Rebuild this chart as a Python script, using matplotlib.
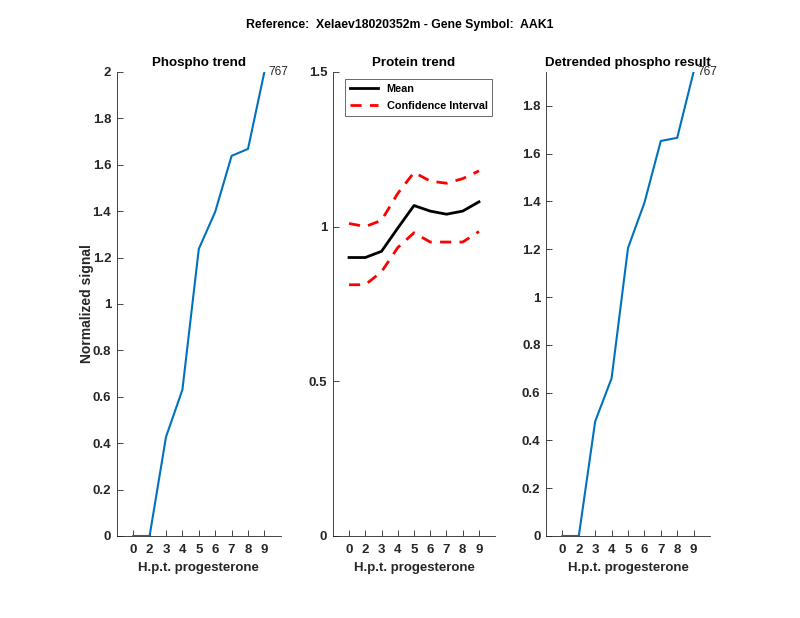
import matplotlib

matplotlib.use("Agg")

import matplotlib.pyplot as plt

TIME_LABELS = ["0", "2", "3", "4", "5", "6", "7", "8", "9"]
PHOSPHO = [0.0, 0.0, 0.427, 0.63, 1.237, 1.397, 1.638, 1.668, 2.0]
PROTEIN_MEAN = [0.90, 0.90, 0.92, 0.995, 1.068, 1.05, 1.04, 1.05, 1.08]
PROTEIN_UPPER = [1.01, 1.0, 1.02, 1.107, 1.175, 1.147, 1.14, 1.155, 1.18]
PROTEIN_LOWER = [0.812, 0.812, 0.854, 0.932, 0.98, 0.95, 0.95, 0.95, 0.984]
DETRENDED = [0.0, 0.0, 0.48, 0.66, 1.205, 1.394, 1.653, 1.666, 1.942]
PEPTIDE_ID = "767"

FONT = "Liberation Sans"
AXIS_COLOR = "#262626"
BLUE = "#0072BD"

plt.rcParams["font.family"] = [FONT, "DejaVu Sans"]


def style_axes(ax):
    for side in ["top", "right"]:
        ax.spines[side].set_visible(False)
    for side in ["left", "bottom"]:
        ax.spines[side].set_color(AXIS_COLOR)
        ax.spines[side].set_linewidth(0.6)
    positions = list(range(1, len(TIME_LABELS) + 1))
    ax.set_xlim(0, len(TIME_LABELS) + 1)
    ax.set_xticks(positions)
    ax.set_xticklabels(TIME_LABELS)
    ax.tick_params(direction="in", length=4, width=0.6, colors=AXIS_COLOR,
                   labelsize=9.5)
    ax.tick_params(axis="x", pad=6)
    ax.tick_params(axis="y", pad=4)
    for lbl in ax.get_xticklabels() + ax.get_yticklabels():
        lbl.set_fontweight("bold")
    ax.set_xlabel("H.p.t. progesterone", fontsize=9.5, fontweight="bold",
                  color=AXIS_COLOR)
    return positions


fig = plt.figure(figsize=(8, 6.18), dpi=100)
ax1 = fig.add_axes([0.146, 0.1327, 0.205, 0.751])
ax2 = fig.add_axes([0.416, 0.1327, 0.203, 0.751])
ax3 = fig.add_axes([0.6825, 0.1327, 0.205, 0.751])

# Phospho trend
x = list(range(1, len(TIME_LABELS) + 1))
ax1.plot(x, PHOSPHO, color=BLUE, lw=1.5)
ax1.set_ylim(0, max(PHOSPHO))
ax1.set_yticks([i * 0.2 for i in range(11)])
ax1.set_yticklabels(["0", "0.2", "0.4", "0.6", "0.8", "1", "1.2", "1.4", "1.6",
                     "1.8", "2"])
ax1.text(x[-1] + 0.25, PHOSPHO[-1], PEPTIDE_ID, fontsize=8.6, va="center",
         color=AXIS_COLOR, clip_on=False)
ax1.set_title("Phospho trend", fontsize=9.6, fontweight="bold", pad=4)
ax1.set_ylabel("Normalized signal", fontsize=10, fontweight="bold",
               color=AXIS_COLOR)
ax1.yaxis.set_label_coords(-0.14, 0.5)
style_axes(ax1)

# Protein trend
ax2.plot(x, PROTEIN_MEAN, color="black", lw=2, label="Mean")
ax2.plot(x, PROTEIN_UPPER, color="red", lw=2, ls=(0, (4, 3)),
         label="Confidence Interval")
ax2.plot(x, PROTEIN_LOWER, color="red", lw=2, ls=(0, (4, 3)))
ax2.set_ylim(0, 1.5)
ax2.set_yticks([0, 0.5, 1, 1.5])
ax2.set_yticklabels(["0", "0.5", "1", "1.5"])
ax2.set_title("Protein trend", fontsize=9.6, fontweight="bold", pad=4)
leg = ax2.legend(loc="upper left", bbox_to_anchor=(0.074, 0.985), fontsize=7.8,
                 frameon=True, fancybox=False, edgecolor=AXIS_COLOR,
                 handlelength=2.6, borderpad=0.45, labelspacing=0.65,
                 borderaxespad=0)
leg.get_frame().set_linewidth(0.6)
for t in leg.get_texts():
    t.set_fontweight("bold")
style_axes(ax2)

# Detrended phospho result
ax3.plot(x, DETRENDED, color=BLUE, lw=1.5)
ax3.set_ylim(0, max(DETRENDED))
ax3.set_yticks([i * 0.2 for i in range(10)])
ax3.set_yticklabels(["0", "0.2", "0.4", "0.6", "0.8", "1", "1.2", "1.4", "1.6",
                     "1.8"])
ax3.text(x[-1] + 0.25, DETRENDED[-1], PEPTIDE_ID, fontsize=8.6, va="center",
         color=AXIS_COLOR, clip_on=False)
ax3.set_title("Detrended phospho result", fontsize=9.6, fontweight="bold", pad=4)
style_axes(ax3)

fig.text(0.5, 1 - 25 / 618, "Reference:  Xelaev18020352m - Gene Symbol:  AAK1",
         ha="center", va="center", fontsize=8.8, fontweight="bold")

fig.savefig("out.png", dpi=100)
plt.close(fig)
